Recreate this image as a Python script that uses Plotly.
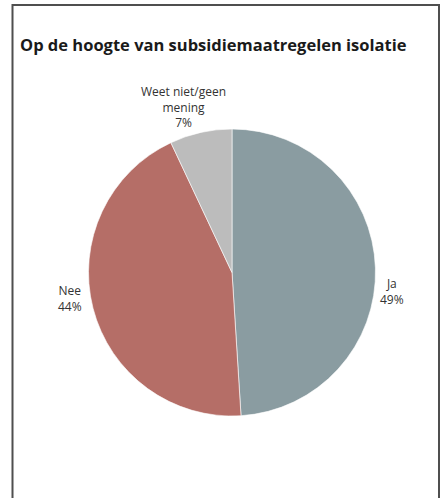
import plotly.graph_objects as go

W, H = 444, 498

# Survey answers
categories = ["Ja", "Nee", "Weet niet/geen mening"]
label_text = ["Ja", "Nee", "Weet niet/geen<br>mening"]
values = [49, 44, 7]
colors = ["#8a9ca1", "#b56e67", "#bcbcbc"]

fig = go.Figure(
    go.Pie(
        labels=categories,
        values=values,
        sort=False,
        direction="clockwise",
        rotation=0,
        marker=dict(colors=colors, line=dict(color="white", width=0.6)),
        textinfo="none",
        hoverinfo="label+percent",
        showlegend=False,
        domain=dict(x=[88.5 / W, 375.5 / W], y=[1 - 416 / H, 1 - 129 / H]),
    )
)

# Outside labels: category name and share
label_pos = {
    "Ja": (392, 291),
    "Nee": (70, 298),
    "Weet niet/geen mening": (183, 107),
}
total = sum(values)
for cat, txt, v in zip(categories, label_text, values):
    x, y = label_pos[cat]
    fig.add_annotation(
        x=x / W, y=1 - y / H, xref="paper", yref="paper",
        text=f"{txt}<br>{round(100 * v / total)}%",
        showarrow=False, align="center",
        font=dict(family="Open Sans", size=12, color="#333333"),
        xanchor="center", yanchor="middle",
    )

fig.update_layout(
    width=W, height=H,
    margin=dict(l=0, r=0, t=0, b=0),
    paper_bgcolor="white",
    plot_bgcolor="white",
    title=dict(
        text="<b>Op de hoogte van subsidiemaatregelen isolatie</b>",
        x=20 / W, xanchor="left", y=1 - 45 / H, yanchor="middle",
        font=dict(family="Open Sans", size=16.5, color="#1a1a1a"),
    ),
    shapes=[
        dict(type="rect", xref="paper", yref="paper",
             x0=12.5 / W, x1=439 / W, y0=-0.05, y1=1 - 5 / H,
             line=dict(color="#4f4f4f", width=2), fillcolor="rgba(0,0,0,0)",
             layer="below"),
    ],
)

fig.write_html("out.html")
